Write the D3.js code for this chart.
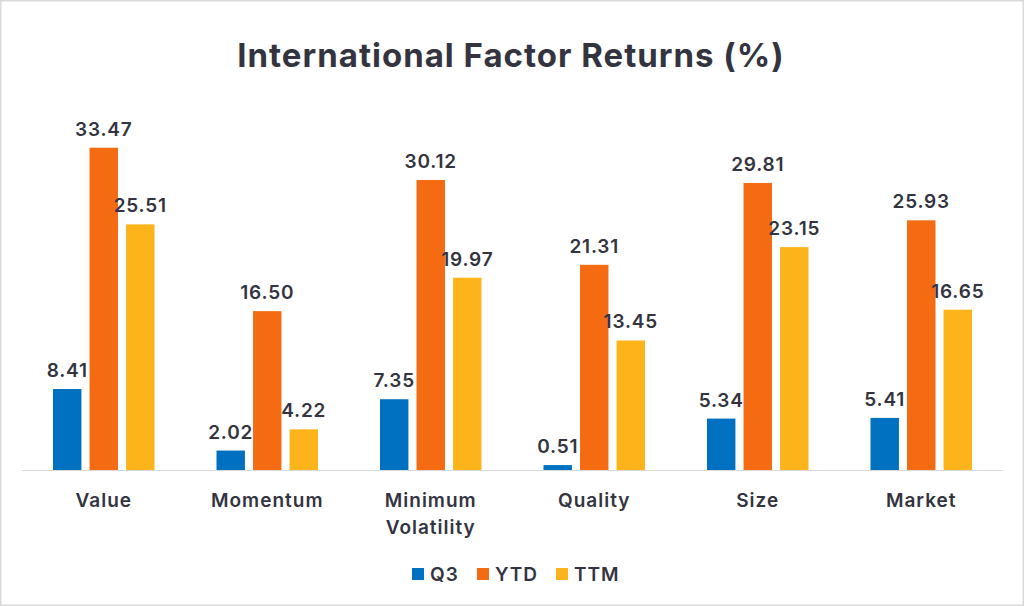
<!DOCTYPE html>
<html>
<head>
<meta charset="utf-8">
<script src="https://cdn.jsdelivr.net/npm/d3@7"></script>
<style>
  html, body { margin: 0; padding: 0; background: #fff; }
  svg { display: block; font-family: Inter, "Open Sans", sans-serif; }
</style>
</head>
<body>
<div id="chart"></div>
<script>
const categories = ["Value", "Momentum", "Minimum Volatility", "Quality", "Size", "Market"];
const seriesNames = ["Q3", "YTD", "TTM"];
const q3 = [8.41, 2.02, 7.35, 0.51, 5.34, 5.41];
const ytd = [33.47, 16.50, 30.12, 21.31, 29.81, 25.93];
const ttm = [25.51, 4.22, 19.97, 13.45, 23.15, 16.65];
const colors = ["#0070c0", "#f46b12", "#fdb31a"];

const width = 1024, height = 606;
const textColor = "#33343f";

const svg = d3.select("#chart").append("svg")
    .attr("width", width)
    .attr("height", height);

// outer frame
svg.append("rect")
    .attr("x", 0.75).attr("y", 0.75)
    .attr("width", width - 1.5).attr("height", height - 1.5)
    .attr("fill", "#fff")
    .attr("stroke", "#d9d9d9")
    .attr("stroke-width", 1.5);

svg.append("text")
    .attr("x", 511)
    .attr("y", 67)
    .attr("text-anchor", "middle")
    .attr("font-size", "33px")
    .attr("font-weight", "700")
    .attr("letter-spacing", "1px")
    .attr("fill", textColor)
    .text("International Factor Returns (%)");

const data = categories.map((c, i) => ({
    category: c,
    values: [q3[i], ytd[i], ttm[i]]
}));

const x0 = d3.scaleBand()
    .domain(categories)
    .range([22, 1003])
    .paddingInner(0)
    .paddingOuter(0);

const x1 = d3.scaleBand()
    .domain(seriesNames)
    .range([31, x0.bandwidth() - 31])
    .paddingInner(0.222);

const y = d3.scaleLinear()
    .domain([0, 35])
    .range([470, 133]);

const groups = svg.append("g")
    .selectAll("g")
    .data(data)
    .enter()
    .append("g")
    .attr("transform", d => `translate(${x0(d.category)},0)`);

groups.selectAll("rect")
    .data(d => d.values.map((v, j) => ({ key: seriesNames[j], value: v, idx: j })))
    .enter()
    .append("rect")
    .attr("x", d => x1(d.key))
    .attr("y", d => y(d.value))
    .attr("width", x1.bandwidth())
    .attr("height", d => y(0) - y(d.value))
    .attr("fill", d => colors[d.idx]);

groups.selectAll("text.val")
    .data(d => d.values.map((v, j) => ({ key: seriesNames[j], value: v })))
    .enter()
    .append("text")
    .attr("class", "val")
    .attr("x", d => x1(d.key) + x1.bandwidth() / 2)
    .attr("y", d => y(d.value) - 12)
    .attr("text-anchor", "middle")
    .attr("font-size", "19px")
    .attr("font-weight", "600")
    .attr("letter-spacing", "0.8px")
    .attr("fill", textColor)
    .text(d => d.value.toFixed(2));

// baseline
svg.append("line")
    .attr("x1", 22).attr("x2", 1003)
    .attr("y1", y(0) + 0.5).attr("y2", y(0) + 0.5)
    .attr("stroke", "#d9d9d9")
    .attr("stroke-width", 1);

// category labels
const catLines = {
    "Minimum Volatility": ["Minimum", "Volatility"]
};
svg.append("g")
    .selectAll("text")
    .data(categories)
    .enter()
    .append("text")
    .attr("x", d => x0(d) + x0.bandwidth() / 2)
    .attr("y", 507)
    .attr("text-anchor", "middle")
    .attr("font-size", "19px")
    .attr("font-weight", "600")
    .attr("letter-spacing", "1px")
    .attr("fill", textColor)
    .each(function (d) {
        const lines = catLines[d] || [d];
        d3.select(this).selectAll("tspan")
            .data(lines)
            .enter()
            .append("tspan")
            .attr("x", x0(d) + x0.bandwidth() / 2)
            .attr("dy", (l, i) => i === 0 ? 0 : 27)
            .text(l => l);
    });

// legend
const legendX = [412, 477, 556];
const legend = svg.append("g")
    .selectAll("g")
    .data(seriesNames)
    .enter()
    .append("g")
    .attr("transform", (d, i) => `translate(${legendX[i]},568)`);

legend.append("rect")
    .attr("x", 0).attr("y", 0)
    .attr("width", 12).attr("height", 12)
    .attr("fill", (d, i) => colors[i]);

legend.append("text")
    .attr("x", 18)
    .attr("y", 12.5)
    .attr("font-size", "19px")
    .attr("font-weight", "600")
    .attr("letter-spacing", "1px")
    .attr("fill", textColor)
    .text(d => d);
</script>
</body>
</html>
